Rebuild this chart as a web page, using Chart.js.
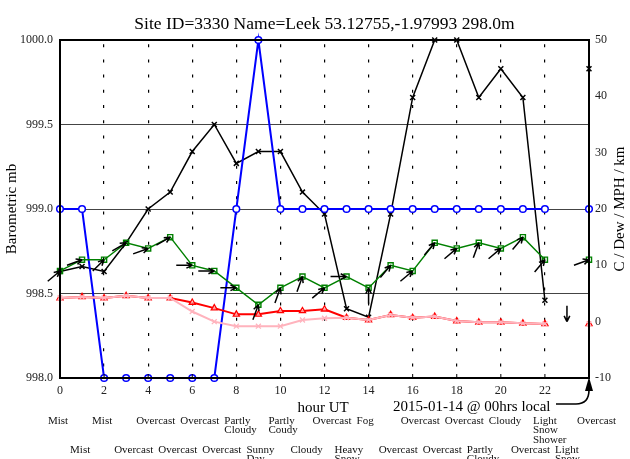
<!DOCTYPE html>
<html>
<head>
<meta charset="utf-8">
<script src="https://cdn.jsdelivr.net/npm/chart.js@4/dist/chart.umd.min.js"></script>
<style>
  body { margin: 0; background: #fff; }
  #siteChart { display: block; }
</style>
</head>
<body>
<canvas id="siteChart" width="630" height="459"></canvas>
<script>
// hourly observations, 2015-01-14
const hours = [0, 1, 2, 3, 4, 5, 6, 7, 8, 9, 10, 11, 12, 13, 14, 15, 16, 17, 18, 19, 20, 21, 22, 23, 24];
const pressureMb = [998.63, 998.66, 998.63, 998.80, 999.00, 999.10, 999.34, 999.50, 999.27, 999.34, 999.34, 999.10,
  998.97, 998.41, 998.36, 998.97, 999.66, 1000.0, 1000.0, 999.66, 999.83, 999.66, 998.46, null, 999.83];
const visibilityKm = [20, 20, -10, -10, -10, -10, -10, -10, 20, 50, 20, 20, 20, 20, 20, 20, 20, 20, 20, 20, 20, 20, 20, null, 20];
const windMph = [9, 11, 11, 14, 13, 15, 10, 9, 6, 3, 6, 8, 6, 8, 6, 10, 9, 14, 13, 14, 13, 15, 11, null, 11];
const windFromDeg = [230, 250, 225, 240, 250, 240, 270, 270, 270, 200, 200, 200, 230, 270, 180, 220, 230, 220, 230, 200, 230, 220, 220, 360, 250];
const tempC = [4.2, 4.4, 4.2, 4.6, 4.2, 4.2, 3.4, 2.4, 1.3, 1.3, 1.9, 1.9, 2.2, 0.7, 0.3, 1.2, 0.7, 0.9, 0.1, -0.1, -0.1, -0.3, -0.4, null, -0.4];
const dewC = [4.2, 4.4, 4.2, 4.6, 4.2, 4.2, 1.8, 0.0, -0.8, -0.8, -0.8, 0.3, 0.6, 0.7, 0.3, 1.2, 0.7, 0.9, 0.1, -0.1, -0.1, -0.3, -0.4, null, -0.4];
const weather = ['Mist', 'Mist', 'Mist', 'Overcast', 'Overcast', 'Overcast', 'Overcast', 'Overcast', 'Partly Cloudy', 'Sunny Day',
  'Partly Coudy', 'Cloudy', 'Overcast', 'Heavy Snow', 'Fog', 'Overcast', 'Overcast', 'Overcast', 'Overcast', 'Partly Cloudy',
  'Cloudy', 'Overcast', 'Light Snow Shower', 'Light Snow', 'Overcast'];
const hourTicks = [0, 2, 4, 6, 8, 10, 12, 14, 16, 18, 20, 22];
const mbTicks = [998.0, 998.5, 999.0, 999.5, 1000.0];
const rightTicks = [-10, 0, 10, 20, 30, 40, 50];

const titleText = 'Site ID=3330 Name=Leek 53.12755,-1.97993 298.0m';
const localText = '2015-01-14 @ 00hrs local';

const SERIF = '"Liberation Serif", "Times New Roman", serif';

function toXY(arr) {
  return hours.map((h, i) => ({ x: h, y: arr[i] }));
}

// everything the library doesn't draw: frame, titles, wind arrows, weather text
const extras = {
  id: 'extras',
  afterDatasetsDraw(chart) {
    const ctx = chart.ctx;
    const a = chart.chartArea;
    const xs = chart.scales.x;
    const ys = chart.scales.y1;

    ctx.save();
    // wind arrows, tip on the wind speed point
    ctx.strokeStyle = '#000';
    ctx.lineWidth = 1.5;
    const len = 16;
    hours.forEach((h, i) => {
      const v = windMph[i] == null ? 0 : windMph[i];
      const tx = xs.getPixelForValue(h);
      const ty = ys.getPixelForValue(v);
      const b = (windFromDeg[i] + 180) * Math.PI / 180;
      const dx = Math.sin(b), dy = -Math.cos(b);
      const sx = tx - dx * len, sy = ty - dy * len;
      ctx.beginPath();
      ctx.moveTo(sx, sy);
      ctx.lineTo(tx, ty);
      const ang = Math.atan2(dy, dx);
      [0.45, -0.45].forEach(o => {
        ctx.moveTo(tx, ty);
        ctx.lineTo(tx - 6.5 * Math.cos(ang + o), ty - 6.5 * Math.sin(ang + o));
      });
      ctx.stroke();
    });

    // frame
    ctx.strokeStyle = '#000';
    ctx.lineWidth = 2;
    ctx.strokeRect(a.left, a.top, a.right - a.left, a.bottom - a.top);
    ctx.lineWidth = 1;
    hourTicks.forEach(h => {
      const x = xs.getPixelForValue(h);
      ctx.beginPath();
      ctx.moveTo(x, a.bottom);
      ctx.lineTo(x, a.bottom - 4);
      ctx.stroke();
    });

    // texts
    ctx.fillStyle = '#000';
    ctx.font = '17.5px ' + SERIF;
    ctx.textAlign = 'center';
    ctx.textBaseline = 'alphabetic';
    ctx.fillText(titleText, (a.left + a.right) / 2, 29);

    ctx.font = '15px ' + SERIF;
    ctx.textBaseline = 'middle';
    ctx.save();
    ctx.translate(12, (a.top + a.bottom) / 2);
    ctx.rotate(-Math.PI / 2);
    ctx.fillText('Barometric mb', 0, 0);
    ctx.restore();
    ctx.save();
    ctx.translate(620, (a.top + a.bottom) / 2);
    ctx.rotate(-Math.PI / 2);
    ctx.fillText('C / Dew / MPH / km', 0, 0);
    ctx.restore();

    ctx.fillText('hour UT', 323, 408);
    ctx.textAlign = 'left';
    ctx.fillText(localText, 393, 407);

    // arrow from the local-time note to the right axis
    ctx.lineWidth = 1.6;
    ctx.beginPath();
    ctx.moveTo(556, 404);
    ctx.lineTo(576, 404);
    ctx.quadraticCurveTo(a.right, 404, a.right, 390);
    ctx.stroke();
    ctx.beginPath();
    ctx.moveTo(a.right, a.bottom - 1);
    ctx.lineTo(a.right - 4, a.bottom + 13);
    ctx.lineTo(a.right + 4, a.bottom + 13);
    ctx.closePath();
    ctx.fill();

    // weather words, even hours on the first row, odd hours on the second
    ctx.font = '11px ' + SERIF;
    ctx.fillStyle = '#111';
    hours.forEach((h, i) => {
      const x = xs.getPixelForValue(h) - 12;
      const y0 = i % 2 === 0 ? 421 : 450;
      weather[i].split(' ').forEach((w, k) => ctx.fillText(w, x, y0 + k * 9.5));
    });
    ctx.restore();
  }
};

const ctx = document.getElementById('siteChart').getContext('2d');
new Chart(ctx, {
  type: 'line',
  data: {
    datasets: [
      {
        label: 'Dew',
        data: toXY(dewC),
        yAxisID: 'y1',
        borderColor: '#ffb3bd',
        backgroundColor: '#ffb3bd',
        borderWidth: 2,
        pointStyle: 'crossRot',
        pointRadius: 3.5,
        pointBorderWidth: 1.3
      },
      {
        label: 'Temp C',
        data: toXY(tempC),
        yAxisID: 'y1',
        borderColor: '#ff0000',
        backgroundColor: 'rgba(255,255,255,0.6)',
        borderWidth: 2,
        pointStyle: 'triangle',
        pointRadius: 3.5,
        pointBorderWidth: 1.3
      },
      {
        label: 'Wind MPH',
        data: toXY(windMph),
        yAxisID: 'y1',
        borderColor: '#008000',
        backgroundColor: 'rgba(255,255,255,0)',
        borderWidth: 1.4,
        pointStyle: 'rect',
        pointRadius: 3.6,
        pointBorderWidth: 1.4
      },
      {
        label: 'Visibility km',
        data: toXY(visibilityKm),
        yAxisID: 'y1',
        borderColor: '#0000ff',
        backgroundColor: '#fff',
        borderWidth: 2,
        pointStyle: 'circle',
        pointRadius: 3.3,
        pointBorderWidth: 1.5
      },
      {
        label: 'Pressure',
        data: toXY(pressureMb),
        yAxisID: 'y',
        borderColor: '#000',
        backgroundColor: '#000',
        borderWidth: 1.5,
        pointStyle: 'crossRot',
        pointRadius: 3.5,
        pointBorderWidth: 1.5
      }
    ]
  },
  options: {
    responsive: false,
    animation: false,
    layout: { padding: { top: 40 } },
    elements: { line: { tension: 0 } },
    datasets: { line: { clip: false, spanGaps: false } },
    plugins: {
      legend: { display: false },
      tooltip: { enabled: false }
    },
    scales: {
      x: {
        type: 'linear',
        min: 0,
        max: 24,
        afterBuildTicks: s => { s.ticks = hourTicks.map(v => ({ value: v })); },
        afterFit: s => { s.height = 81; },
        grid: {
          color: c => (c.tick && c.tick.value === 0 ? 'rgba(0,0,0,0)' : '#000'),
          lineWidth: 1.2,
          drawTicks: false
        },
        border: { display: false, dash: [3, 12.2], dashOffset: 11 },
        ticks: {
          padding: 6,
          maxRotation: 0,
          autoSkip: false,
          color: '#222',
          font: { family: SERIF, size: 12 }
        }
      },
      y: {
        position: 'left',
        min: 998,
        max: 1000,
        afterBuildTicks: s => { s.ticks = mbTicks.map(v => ({ value: v })); },
        afterFit: s => { s.width = 60; },
        grid: { color: '#444', lineWidth: 1, drawTicks: false },
        border: { display: false },
        ticks: {
          padding: 7,
          color: '#222',
          font: { family: SERIF, size: 12 },
          callback: v => Number(v).toFixed(1)
        }
      },
      y1: {
        position: 'right',
        min: -10,
        max: 50,
        afterBuildTicks: s => { s.ticks = rightTicks.map(v => ({ value: v })); },
        afterFit: s => { s.width = 41; },
        grid: { display: false, drawTicks: false },
        border: { display: false },
        ticks: {
          padding: 6,
          color: '#222',
          font: { family: SERIF, size: 12 }
        }
      }
    }
  },
  plugins: [extras]
});
</script>
</body>
</html>
